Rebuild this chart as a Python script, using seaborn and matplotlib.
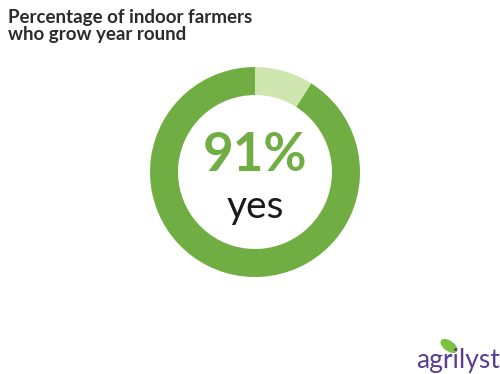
import matplotlib
matplotlib.use("Agg")
import matplotlib.pyplot as plt
import seaborn as sns
from matplotlib.patches import Ellipse

# data
labels = ["yes", "no"]
values = [91, 9]
colors = ["#70ae43", "#cfe6b1"]
title = "Percentage of indoor farmers\nwho grow year round"
center_value = "91%"
center_label = "yes"

sns.set_theme(style="white")
plt.rcParams["font.family"] = ["Lato", "DejaVu Sans"]

fig = plt.figure(figsize=(5, 3.74), dpi=100)
fig.patch.set_facecolor("white")

ax = fig.add_axes([0.30, 0.2593, 0.42, 0.5615])
ax.pie(values[::-1], colors=colors[::-1], startangle=90, counterclock=False,
       radius=1, wedgeprops=dict(width=0.267, edgecolor="none"))
ax.set_xlim(-1, 1)
ax.set_ylim(-1, 1)
ax.set_aspect("auto")
ax.axis("off")

ax.text(0, 0.16, center_value, ha="center", va="center", fontsize=38,
        fontweight="bold", color="#70ae43")
ax.text(0, -0.33, center_label, ha="center", va="center", fontsize=28,
        color="#1a1a1a")

fig.text(8 / 500, 1 - 9 / 374, title, ha="left", va="top", fontsize=13.5,
         fontweight="bold", color="#2b2b2b", linespacing=1.0)

# logo
fig.text(416 / 500, 1 - 368 / 374, "agrilyst", ha="left", va="baseline",
         fontsize=19, color="#5b3e91")
lax = fig.add_axes([0, 0, 1, 1], facecolor="none")
lax.set_xlim(0, 500)
lax.set_ylim(374, 0)
lax.axis("off")
lax.add_patch(Ellipse((449, 346), 18, 9, angle=35, color="#7cc242"))

fig.savefig("out.png", dpi=100, facecolor="white")
